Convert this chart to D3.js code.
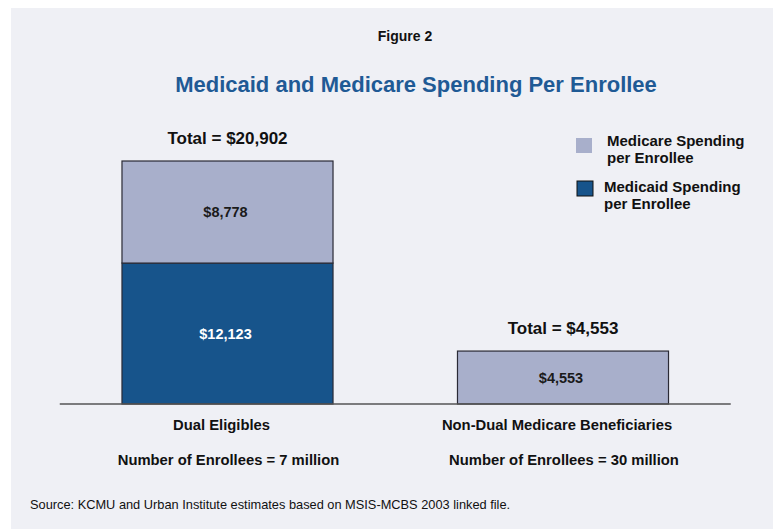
<!DOCTYPE html>
<html>
<head>
<meta charset="utf-8">
<script src="https://cdn.jsdelivr.net/npm/d3@7"></script>
<style>
  body { margin: 0; background: #fff; }
  svg { display: block; font-family: "Liberation Sans", Arial, sans-serif; }
</style>
</head>
<body>
<svg width="773" height="529"></svg>
<script>
const categories = ["Dual Eligibles", "Non-Dual Medicare Beneficiaries"];
const enrollees = ["Number of Enrollees = 7 million", "Number of Enrollees = 30 million"];
const medicaid = [12123, 0];
const medicare = [8778, 4553];
const totals = [20902, 4553];
const seriesNames = ["Medicare Spending per Enrollee", "Medicaid Spending per Enrollee"];

const svg = d3.select("svg");
const fmt = d3.format("$,");

// panel background
svg.append("rect")
    .attr("x", 11).attr("y", 8)
    .attr("width", 773 - 11).attr("height", 529 - 8)
    .attr("fill", "#eff0f5");

const baseY = 404;

const x = d3.scaleBand()
    .domain(categories)
    .range([59.75, 730.75])
    .paddingInner(0.371)
    .paddingOuter(0.1855);

const y = d3.scaleLinear()
    .domain([0, 20902])
    .range([baseY, 161]);

const rows = categories.map((c, i) => ({
    cat: c, medicaid: medicaid[i], medicare: medicare[i], total: totals[i]
}));

const stack = d3.stack().keys(["medicaid", "medicare"])(rows);
const colors = { medicaid: "#17548b", medicare: "#a8afcb" };

// bars
stack.forEach(layer => {
    svg.append("g").selectAll("rect")
        .data(layer.filter(d => d[1] > d[0]))
        .enter()
        .append("rect")
        .attr("x", d => x(d.data.cat))
        .attr("y", d => y(d[1]))
        .attr("width", x.bandwidth())
        .attr("height", d => y(d[0]) - y(d[1]))
        .attr("fill", colors[layer.key])
        .attr("stroke", "#2a2a35")
        .attr("stroke-width", 1.2);

    // value labels inside segments
    svg.append("g").selectAll("text")
        .data(layer.filter(d => d[1] > d[0]))
        .enter()
        .append("text")
        .attr("x", d => x(d.data.cat) + x.bandwidth() / 2 - 2)
        .attr("y", d => (y(d[0]) + y(d[1])) / 2 + 5)
        .attr("text-anchor", "middle")
        .style("font-size", "14.5px")
        .style("font-weight", "bold")
        .attr("fill", layer.key === "medicaid" ? "#ffffff" : "#1a1a1a")
        .text(d => fmt(d[1] - d[0]));
});

// baseline
svg.append("line")
    .attr("x1", x.range()[0]).attr("x2", x.range()[1])
    .attr("y1", baseY).attr("y2", baseY)
    .attr("stroke", "#555")
    .attr("stroke-width", 1.5);

// totals
svg.append("g").selectAll("text")
    .data(rows)
    .enter()
    .append("text")
    .attr("x", d => x(d.cat) + x.bandwidth() / 2)
    .attr("y", d => y(d.total) - 17)
    .attr("text-anchor", "middle")
    .style("font-size", "17px")
    .style("font-weight", "bold")
    .attr("fill", "#111")
    .text(d => "Total = " + fmt(d.total));

// category labels
svg.append("g").selectAll("text")
    .data(categories)
    .enter()
    .append("text")
    .attr("x", d => x(d) + x.bandwidth() / 2 - 6)
    .attr("y", 430)
    .attr("text-anchor", "middle")
    .style("font-size", "14.8px")
    .style("font-weight", "bold")
    .attr("fill", "#111")
    .text(d => d);

svg.append("g").selectAll("text")
    .data(enrollees)
    .enter()
    .append("text")
    .attr("x", (d, i) => x(categories[i]) + x.bandwidth() / 2 + 1)
    .attr("y", 465)
    .attr("text-anchor", "middle")
    .style("font-size", "14.8px")
    .style("font-weight", "bold")
    .attr("fill", "#111")
    .text(d => d);

// titles
svg.append("text")
    .attr("x", 405).attr("y", 41)
    .attr("text-anchor", "middle")
    .style("font-size", "14px")
    .style("font-weight", "bold")
    .attr("fill", "#111")
    .text("Figure 2");

svg.append("text")
    .attr("x", 416).attr("y", 92)
    .attr("text-anchor", "middle")
    .style("font-size", "22px")
    .style("font-weight", "bold")
    .attr("fill", "#1f5a95")
    .text("Medicaid and Medicare Spending Per Enrollee");

// legend
const legend = [
    { name: seriesNames[0], color: colors.medicare, sx: 576, sy: 138, tx: 607, ty: 146, stroke: "none" },
    { name: seriesNames[1], color: colors.medicaid, sx: 577, sy: 181, tx: 604, ty: 192, stroke: "#111" }
];
legend.forEach(l => {
    svg.append("rect")
        .attr("x", l.sx).attr("y", l.sy)
        .attr("width", 16).attr("height", 15)
        .attr("fill", l.color)
        .attr("stroke", l.stroke);
    const words = l.name.split(" ");
    const t = svg.append("text")
        .attr("x", l.tx).attr("y", l.ty)
        .style("font-size", "15px")
        .style("font-weight", "bold")
        .attr("fill", "#111");
    t.append("tspan").attr("x", l.tx).text(words.slice(0, 2).join(" "));
    t.append("tspan").attr("x", l.tx).attr("dy", 17).text(words.slice(2).join(" "));
});

// source
svg.append("text")
    .attr("x", 30).attr("y", 509)
    .style("font-family", "'Liberation Sans Narrow', 'Arial Narrow', sans-serif")
    .style("font-size", "12.8px")
    .attr("fill", "#111")
    .text("Source: KCMU and Urban Institute estimates based on MSIS-MCBS 2003 linked file.");
</script>
</body>
</html>
